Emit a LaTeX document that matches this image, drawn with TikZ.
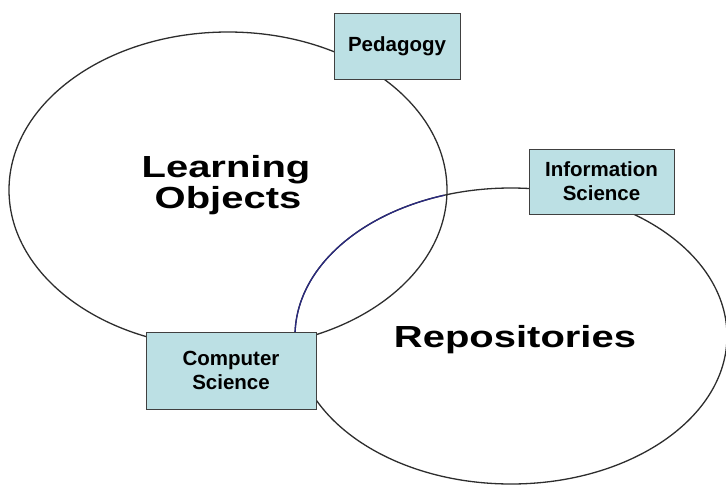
\documentclass[tikz,border=0pt]{standalone}
\usepackage{fontspec}
\setmainfont{Liberation Sans}
\usetikzlibrary{shapes.geometric}
\definecolor{boxfill}{RGB}{188,224,228}
\definecolor{boxline}{RGB}{64,64,64}
\definecolor{ringline}{RGB}{45,45,45}
\definecolor{arcblue}{RGB}{42,42,128}
\tikzset{
  ring/.style={ellipse, draw=ringline, line width=1.3pt, inner sep=0pt, fill=none},
  fieldbox/.style={rectangle, draw=boxline, fill=boxfill, line width=1pt, inner sep=0pt,
    align=center, font=\fontsize{20.5}{24}\selectfont\bfseries},
  bigtext/.style={anchor=base, inner sep=0pt, font=\fontsize{30.5}{31}\selectfont\bfseries}
}
\begin{document}
\begin{tikzpicture}[x=1pt,y=-1pt]
\useasboundingbox (0,0) rectangle (726,485);
% rings
\node[ring, minimum width=438pt, minimum height=316pt] (lo) at (228,190) {};
\node[ring, minimum width=432pt, minimum height=296pt] (rep) at (511,336) {};
% blue arc of the repositories ring inside the learning objects ring
\draw[arcblue, line width=1.3pt] plot[domain=108:186, samples=60, variable=\t]
  ({511+216*cos(\t)}, {336-148*sin(\t)});
% boxes
\node[fieldbox, minimum width=126pt, minimum height=66pt] (ped) at (397,46) {Pedagogy};
\node[fieldbox, minimum width=145pt, minimum height=65pt] (info) at (601.5,181.5) {Information\\Science};
\node[fieldbox, minimum width=170pt, minimum height=77pt] (cs) at (231,370.5) {Computer\\Science};
% labels
\node[bigtext] (l1) at (226,177) {\scalebox{1.31}[1]{Learning}};
\node[bigtext] (l2) at (228,208) {\scalebox{1.31}[1]{Objects}};
\node[bigtext] (r1) at (515,347) {\scalebox{1.31}[1]{Repositories}};
\end{tikzpicture}
\end{document}
